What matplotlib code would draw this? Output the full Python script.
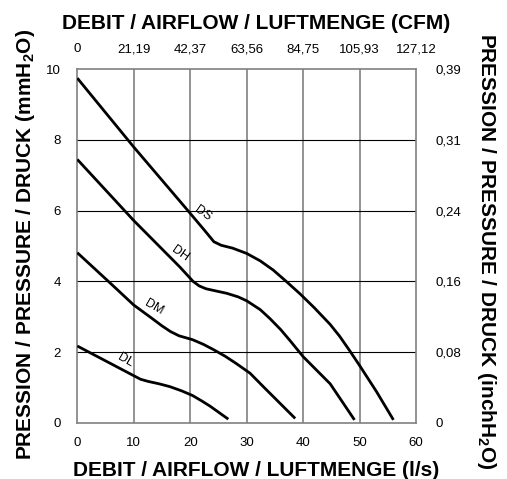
import matplotlib
matplotlib.use("Agg")
import matplotlib.pyplot as plt

plt.rcParams['font.family'] = ['Liberation Sans', 'DejaVu Sans']
plt.rcParams['mathtext.fontset'] = 'custom'
plt.rcParams['mathtext.rm'] = 'Liberation Sans:bold'
plt.rcParams['mathtext.bf'] = 'Liberation Sans:bold'

# Data (airflow l/s, pressure mmH2O)
ds_x = [0, 10, 19.6, 22.5, 24.2, 25.5, 27.5, 30, 32.4, 34.7, 37.0, 39.5, 42.0, 44.8, 46.5, 48.2, 50, 53.0, 56.0]
ds_y = [9.75, 7.8, 6.0, 5.45, 5.12, 5.02, 4.94, 4.79, 4.58, 4.32, 4.0, 3.64, 3.25, 2.78, 2.44, 2.05, 1.62, 0.88, 0.08]
dh_x = [0, 10, 18.2, 20.5, 21.6, 22.8, 24.5, 26.5, 28.5, 30, 32.4, 34.1, 36.0, 37.7, 40, 44.8, 49.1]
dh_y = [7.45, 5.72, 4.4, 4.0, 3.87, 3.79, 3.73, 3.66, 3.56, 3.45, 3.2, 2.95, 2.64, 2.32, 1.87, 1.1, 0.08]
dm_x = [0, 5.5, 10, 13.5, 15.0, 16.5, 18.0, 20.4, 22.3, 24.1, 26.2, 28.2, 30.6, 33.2, 35.9, 38.6]
dm_y = [4.81, 4.0, 3.33, 2.92, 2.74, 2.58, 2.46, 2.35, 2.22, 2.07, 1.88, 1.67, 1.40, 0.98, 0.55, 0.12]
dl_x = [0, 10.0, 11.2, 12.5, 14.5, 16.4, 18.5, 20.4, 22.0, 23.5, 26.75]
dl_y = [2.17, 1.33, 1.23, 1.17, 1.10, 1.02, 0.9, 0.77, 0.62, 0.47, 0.10]

curve_names = ['DS', 'DH', 'DM', 'DL']
label_x = [22.3, 18.2, 13.5, 8.5]
label_y = [5.93, 4.79, 3.28, 1.77]
label_rot = [-35, -35, -30, -30]

x_ticks = [0, 10, 20, 30, 40, 50, 60]
y_ticks = [0, 2, 4, 6, 8, 10]
cfm_labels = ['0', '21,19', '42,37', '63,56', '84,75', '105,93', '127,12']
inch_labels = ['0', '0,08', '0,16', '0,24', '0,31', '0,39']

fig = plt.figure(figsize=(5.07, 4.79), dpi=100)
ax = fig.add_axes([77.3/507, 1-422.7/479, (416-77.3)/507, (422.7-69.3)/479])
ax.set_xlim(0, 60)
ax.set_ylim(0, 10)

for v in x_ticks[1:-1]:
    ax.axvline(v, color='#808080', lw=1.2, zorder=1)
for v in y_ticks[1:-1]:
    ax.axhline(v, color='black', lw=0.8, zorder=1)

for xs, ys in [(ds_x, ds_y), (dh_x, dh_y), (dm_x, dm_y), (dl_x, dl_y)]:
    ax.plot(xs, ys, color='black', lw=2.0, solid_capstyle='butt',
            solid_joinstyle='round', zorder=3)

for n, lx, ly, r in zip(curve_names, label_x, label_y, label_rot):
    ax.text(lx, ly, n, rotation=r, fontsize=9, ha='center', va='center', zorder=4)

for s in ax.spines.values():
    s.set_color('#808080')
    s.set_linewidth(1.2)

ax.set_xticks(x_ticks)
ax.set_yticks(y_ticks)
ax.tick_params(length=0, labelsize=9.5, pad=10)
ax.tick_params(axis='y', pad=12)

axt = ax.twiny()
axt.set_xlim(0, 60)
axt.set_xticks(x_ticks)
axt.set_xticklabels(cfm_labels)
axt.tick_params(length=0, labelsize=9.5, pad=10)
for s in axt.spines.values():
    s.set_visible(False)

axr = ax.twinx()
axr.set_ylim(0, 10)
axr.set_yticks(y_ticks)
axr.set_yticklabels(inch_labels)
axr.tick_params(length=0, labelsize=9.5, pad=14)
for s in axr.spines.values():
    s.set_visible(False)

fig.text(256.5/507, 1-23.5/479, 'DEBIT / AIRFLOW / LUFTMENGE (CFM)', fontsize=15,
         fontweight='bold', ha='center', va='center')
fig.text(256.5/507, 1-471/479, 'DEBIT / AIRFLOW / LUFTMENGE (l/s)', fontsize=15,
         fontweight='bold', ha='center', va='center')
fig.text(25.5/507, 1-244.5/479, r'PRESSION / PRESSURE / DRUCK (mmH$_{\mathbf{2}}$O)', fontsize=15,
         fontweight='bold', ha='center', va='center', rotation=90)
fig.text(486/507, 1-251/479, r'PRESSION / PRESSURE / DRUCK (inchH$_{\mathbf{2}}$O)', fontsize=15,
         fontweight='bold', ha='center', va='center', rotation=-90)

fig.savefig('out.png', dpi=100)
